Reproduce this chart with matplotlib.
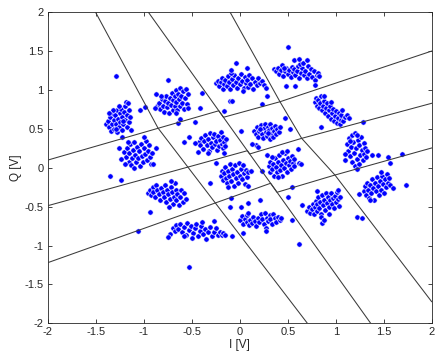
import numpy as np
import matplotlib
matplotlib.use('Agg')
import matplotlib.pyplot as plt

# received symbols, one list per constellation cluster (I, Q) in volts
c01 = [(-1.40, 0.57), (-1.37, 0.60), (-1.36, 0.52), (-1.35, 0.66), (-1.34, 0.47), (-1.33, 0.56),
       (-1.33, 0.71), (-1.31, 0.62), (-1.31, 0.50), (-1.30, 0.68), (-1.29, 0.56), (-1.28, 0.74),
       (-1.28, 0.46), (-1.27, 0.63), (-1.26, 0.53), (-1.25, 0.70), (-1.25, 0.59), (-1.24, 0.76),
       (-1.23, 0.49), (-1.23, 0.65), (-1.22, 0.56), (-1.21, 0.72), (-1.20, 0.62), (-1.20, 0.80),
       (-1.19, 0.85), (-1.18, 0.52), (-1.18, 0.68), (-1.17, 0.83), (-1.16, 0.59), (-1.15, 0.74),
       (-1.14, 0.66), (-1.32, 0.75), (-1.36, 0.70), (-1.29, 0.50), (-1.22, 0.60), (-1.26, 0.79)]
c02 = [(-0.86, 0.79), (-0.84, 0.84), (-0.83, 0.76), (-0.81, 0.88), (-0.80, 0.80), (-0.79, 0.72),
       (-0.78, 0.86), (-0.77, 0.93), (-0.76, 0.78), (-0.75, 0.84), (-0.74, 0.70), (-0.73, 0.90),
       (-0.72, 0.81), (-0.71, 0.96), (-0.70, 0.75), (-0.70, 0.87), (-0.68, 0.92), (-0.68, 0.80),
       (-0.67, 1.00), (-0.66, 0.85), (-0.65, 0.74), (-0.64, 0.95), (-0.63, 0.88), (-0.62, 1.03),
       (-0.62, 0.79), (-0.61, 0.92), (-0.60, 0.84), (-0.59, 0.99), (-0.58, 0.76), (-0.57, 0.90),
       (-0.56, 1.02), (-0.55, 0.82), (-0.54, 0.95), (-0.82, 0.92), (-0.66, 0.70)]
c03 = [(-0.25, 1.09), (-0.23, 1.12), (-0.22, 1.05), (-0.20, 1.10), (-0.19, 1.16), (-0.17, 1.02),
       (-0.16, 1.08), (-0.15, 1.13), (-0.13, 1.05), (-0.12, 1.18), (-0.11, 1.10), (-0.10, 1.01),
       (-0.08, 1.14), (-0.07, 1.06), (-0.06, 1.20), (-0.04, 1.10), (-0.03, 1.03), (-0.02, 1.16),
       (0.00, 1.08), (0.01, 1.21), (0.02, 1.12), (0.04, 1.03), (0.05, 1.17), (0.06, 1.09),
       (0.08, 1.13), (0.09, 1.04), (0.10, 1.20), (0.11, 1.08), (0.13, 1.15), (0.14, 1.02),
       (0.16, 1.11), (0.18, 1.06), (0.19, 1.15), (0.21, 1.09), (0.23, 1.12), (0.25, 1.06),
       (-0.09, 1.22), (0.03, 0.99)]
c04 = [(0.36, 1.27), (0.38, 1.24), (0.40, 1.29), (0.41, 1.21), (0.43, 1.26), (0.44, 1.32),
       (0.45, 1.18), (0.47, 1.24), (0.48, 1.29), (0.50, 1.21), (0.51, 1.26), (0.53, 1.17),
       (0.54, 1.30), (0.55, 1.23), (0.57, 1.27), (0.58, 1.19), (0.60, 1.25), (0.61, 1.31),
       (0.62, 1.16), (0.64, 1.22), (0.65, 1.28), (0.67, 1.19), (0.68, 1.25), (0.70, 1.15),
       (0.71, 1.31), (0.72, 1.21), (0.74, 1.27), (0.75, 1.17), (0.77, 1.24), (0.78, 1.13),
       (0.80, 1.19), (0.82, 1.22), (0.46, 1.28), (0.63, 1.33)]
c05 = [(-1.21, 0.20), (-1.19, 0.14), (-1.18, 0.25), (-1.16, 0.08), (-1.15, 0.19), (-1.14, 0.30),
       (-1.13, 0.04), (-1.12, 0.13), (-1.11, 0.23), (-1.10, 0.33), (-1.09, 0.17), (-1.08, 0.07),
       (-1.07, 0.27), (-1.06, 0.12), (-1.05, 0.21), (-1.04, 0.02), (-1.03, 0.31), (-1.02, 0.15),
       (-1.01, 0.08), (-1.00, 0.25), (-0.99, 0.18), (-0.98, 0.35), (-0.97, 0.10), (-0.96, 0.22),
       (-0.95, 0.29), (-0.94, 0.14), (-0.93, 0.05), (-0.92, 0.19), (-1.10, 0.00), (-1.00, 0.40),
       (-1.17, 0.33)]
c06 = [(-0.43, 0.33), (-0.41, 0.29), (-0.40, 0.38), (-0.38, 0.24), (-0.37, 0.34), (-0.36, 0.42),
       (-0.34, 0.29), (-0.33, 0.37), (-0.32, 0.21), (-0.31, 0.45), (-0.30, 0.32), (-0.29, 0.27),
       (-0.28, 0.39), (-0.27, 0.44), (-0.26, 0.30), (-0.25, 0.35), (-0.24, 0.23), (-0.23, 0.41),
       (-0.22, 0.28), (-0.21, 0.36), (-0.20, 0.46), (-0.19, 0.31), (-0.18, 0.25), (-0.17, 0.39),
       (-0.16, 0.33), (-0.15, 0.28), (-0.14, 0.37)]
c07 = [(0.15, 0.47), (0.17, 0.43), (0.18, 0.52), (0.19, 0.40), (0.20, 0.48), (0.22, 0.55),
       (0.23, 0.44), (0.24, 0.38), (0.25, 0.51), (0.26, 0.57), (0.27, 0.46), (0.28, 0.41),
       (0.29, 0.53), (0.30, 0.49), (0.31, 0.37), (0.32, 0.56), (0.33, 0.44), (0.34, 0.51),
       (0.35, 0.40), (0.36, 0.47), (0.37, 0.54), (0.38, 0.43), (0.39, 0.50), (0.41, 0.46),
       (0.42, 0.52), (0.21, 0.50), (0.29, 0.45)]
c08 = [(0.78, 0.85), (0.79, 0.90), (0.80, 0.80), (0.82, 0.87), (0.83, 0.77), (0.84, 0.83),
       (0.85, 0.92), (0.86, 0.74), (0.87, 0.80), (0.88, 0.86), (0.89, 0.70), (0.90, 0.77),
       (0.91, 0.83), (0.92, 0.67), (0.93, 0.74), (0.94, 0.79), (0.95, 0.63), (0.96, 0.71),
       (0.97, 0.76), (0.98, 0.60), (0.99, 0.67), (1.00, 0.73), (1.01, 0.58), (1.02, 0.64),
       (1.03, 0.70), (1.04, 0.57), (1.05, 0.62), (1.06, 0.68), (1.07, 0.74), (1.08, 0.60),
       (1.10, 0.66), (0.88, 0.92), (0.95, 0.85)]
c09 = [(-0.96, -0.32), (-0.94, -0.28), (-0.93, -0.35), (-0.91, -0.25), (-0.90, -0.31), (-0.88, -0.38),
       (-0.87, -0.22), (-0.86, -0.29), (-0.84, -0.34), (-0.83, -0.41), (-0.82, -0.26), (-0.80, -0.31),
       (-0.79, -0.37), (-0.78, -0.22), (-0.77, -0.44), (-0.76, -0.28), (-0.75, -0.34), (-0.73, -0.40),
       (-0.72, -0.25), (-0.71, -0.31), (-0.70, -0.47), (-0.69, -0.37), (-0.68, -0.20), (-0.67, -0.28),
       (-0.66, -0.42), (-0.65, -0.34), (-0.63, -0.48), (-0.62, -0.38), (-0.61, -0.29), (-0.59, -0.44),
       (-0.58, -0.33), (-0.56, -0.40), (-0.74, -0.50), (-0.72, -0.17)]
c10 = [(-0.20, -0.10), (-0.19, -0.04), (-0.18, -0.16), (-0.16, -0.07), (-0.15, 0.01), (-0.14, -0.13),
       (-0.13, -0.20), (-0.12, -0.04), (-0.11, -0.10), (-0.10, 0.05), (-0.09, -0.17), (-0.08, -0.02),
       (-0.07, -0.08), (-0.06, -0.23), (-0.05, 0.03), (-0.04, -0.13), (-0.03, -0.05), (-0.02, -0.19),
       (-0.01, 0.06), (0.00, -0.10), (0.01, -0.01), (0.02, -0.15), (0.04, -0.07), (0.05, -0.21),
       (0.06, -0.03), (0.08, -0.12), (0.09, -0.06), (-0.12, -0.25), (0.03, 0.04)]
c11 = [(0.30, 0.02), (0.31, -0.05), (0.32, 0.08), (0.34, -0.02), (0.35, 0.05), (0.36, -0.10),
       (0.37, 0.12), (0.38, 0.01), (0.39, -0.06), (0.40, 0.07), (0.41, 0.16), (0.42, -0.03),
       (0.43, 0.04), (0.44, -0.11), (0.45, 0.10), (0.46, 0.00), (0.47, 0.19), (0.48, 0.06),
       (0.49, -0.05), (0.50, 0.13), (0.51, 0.03), (0.52, 0.09), (0.53, -0.02), (0.54, 0.15),
       (0.55, 0.06), (0.56, 0.11), (0.57, 0.02), (0.44, 0.20), (0.40, -0.12)]
c12 = [(1.12, 0.30), (1.13, 0.22), (1.14, 0.38), (1.15, 0.15), (1.16, 0.27), (1.17, 0.42),
       (1.17, 0.07), (1.18, 0.33), (1.19, 0.19), (1.20, 0.45), (1.20, 0.02), (1.21, 0.25),
       (1.22, 0.11), (1.23, 0.36), (1.24, 0.29), (1.24, 0.05), (1.25, 0.17), (1.26, 0.40),
       (1.27, 0.23), (1.28, 0.10), (1.29, 0.32), (1.30, 0.18), (1.31, 0.26), (1.32, 0.14),
       (1.33, 0.22), (1.15, 0.35), (1.22, 0.42)]
c13 = [(-0.70, -0.77), (-0.68, -0.81), (-0.66, -0.74), (-0.64, -0.79), (-0.62, -0.72), (-0.60, -0.82),
       (-0.58, -0.76), (-0.56, -0.86), (-0.55, -0.71), (-0.53, -0.80), (-0.51, -0.75), (-0.49, -0.84),
       (-0.47, -0.78), (-0.46, -0.72), (-0.44, -0.88), (-0.42, -0.81), (-0.40, -0.75), (-0.38, -0.85),
       (-0.36, -0.79), (-0.35, -0.91), (-0.33, -0.82), (-0.31, -0.76), (-0.29, -0.88), (-0.27, -0.83),
       (-0.25, -0.78), (-0.23, -0.87), (-0.21, -0.82), (-0.19, -0.86), (-0.17, -0.84), (-0.15, -0.86),
       (-0.50, -0.90), (-0.39, -0.70), (-0.58, -0.88)]
c14 = [(0.00, -0.67), (0.02, -0.62), (0.03, -0.72), (0.05, -0.66), (0.07, -0.70), (0.08, -0.61),
       (0.10, -0.74), (0.11, -0.67), (0.13, -0.71), (0.14, -0.63), (0.16, -0.68), (0.17, -0.75),
       (0.19, -0.64), (0.20, -0.70), (0.22, -0.60), (0.23, -0.66), (0.25, -0.72), (0.26, -0.58),
       (0.28, -0.64), (0.29, -0.69), (0.31, -0.61), (0.32, -0.66), (0.34, -0.72), (0.35, -0.59),
       (0.37, -0.65), (0.38, -0.70), (0.40, -0.63), (0.42, -0.67), (0.43, -0.64), (0.27, -0.78),
       (0.09, -0.58)]
c15 = [(0.70, -0.55), (0.72, -0.51), (0.73, -0.58), (0.75, -0.53), (0.76, -0.47), (0.77, -0.60),
       (0.78, -0.50), (0.79, -0.43), (0.80, -0.56), (0.81, -0.47), (0.82, -0.38), (0.83, -0.52),
       (0.84, -0.44), (0.85, -0.59), (0.86, -0.35), (0.87, -0.48), (0.88, -0.41), (0.89, -0.54),
       (0.90, -0.32), (0.91, -0.45), (0.92, -0.38), (0.93, -0.50), (0.94, -0.42), (0.95, -0.33),
       (0.96, -0.47), (0.97, -0.39), (0.98, -0.52), (0.99, -0.36), (1.00, -0.44), (1.01, -0.31),
       (1.02, -0.40), (1.03, -0.49), (1.04, -0.38), (0.85, -0.63), (0.93, -0.60)]
c16 = [(1.30, -0.30), (1.31, -0.24), (1.32, -0.35), (1.33, -0.19), (1.34, -0.28), (1.35, -0.39),
       (1.36, -0.22), (1.37, -0.32), (1.38, -0.15), (1.39, -0.26), (1.40, -0.41), (1.41, -0.20),
       (1.42, -0.30), (1.43, -0.12), (1.44, -0.24), (1.45, -0.35), (1.46, -0.17), (1.47, -0.28),
       (1.48, -0.10), (1.49, -0.21), (1.50, -0.32), (1.51, -0.14), (1.52, -0.25), (1.53, -0.08),
       (1.54, -0.19), (1.56, -0.13), (1.57, -0.22), (1.36, -0.41), (1.47, -0.06)]

# scattered points between the clusters
strays = [(-1.295, 1.185), (-1.04, 0.744), (-0.99, 0.778), (-1.13, 0.49), (-1.23, 0.40),
          (-0.745, 1.13), (-0.87, 0.945), (-0.88, 0.774), (-0.64, 0.572), (-0.62, 0.624),
          (-0.54, 0.77), (-0.39, 0.958), (-0.415, 0.774), (-0.467, 0.594),
          (-0.09, 1.26), (-0.04, 1.35), (0.08, 1.29), (-0.10, 0.86), (-0.08, 0.86),
          (0.27, 1.03), (0.28, 0.92), (0.23, 0.82), (-0.16, 0.73),
          (0.50, 1.55), (0.56, 1.39), (0.62, 1.40), (0.66, 1.35), (0.70, 1.39), (0.48, 1.05),
          (0.58, 1.05), (0.78, 1.07), (0.83, 1.18),
          (-1.35, -0.11), (-1.24, -0.16), (-1.26, 0.25), (-1.24, 0.11), (-1.20, 0.05),
          (-0.87, 0.25), (-0.90, 0.05),
          (-0.53, 0.40), (-0.586, 0.336), (-0.467, 0.324), (-0.44, 0.20), (-0.33, 0.19), (-0.16, 0.19),
          (0.012, 0.474), (0.165, 0.294), (0.193, 0.272), (0.471, 0.645), (0.523, 0.504), (0.13, 0.30),
          (0.846, 0.52), (1.12, 0.68), (1.14, 0.64), (1.28, 0.594),
          (-0.937, -0.564), (-1.065, -0.81), (-0.31, -0.20), (-0.25, 0.066), (-0.095, -0.39),
          (0.085, -0.233), (0.12, -0.04),
          (0.28, 0.165), (0.332, 0.135), (0.495, 0.217), (0.61, 0.24), (0.617, 0.058), (0.638, 0.05),
          (0.54, -0.242), (0.506, -0.37), (0.23, -0.04),
          (1.10, 0.18), (1.10, 0.10), (1.22, -0.02), (1.38, 0.17),
          (-0.53, -1.28), (-0.73, -0.85), (-0.745, -0.89), (-0.085, -0.877), (-0.27, -0.68),
          (-0.10, -0.50), (0.009, -0.50), (0.089, -0.457), (0.21, -0.414), (0.54, -0.67),
          (0.617, -0.98), (0.03, -0.84), (0.27, -0.81),
          (0.853, -0.714), (0.88, -0.67), (0.645, -0.48), (1.027, -0.285), (0.80, -0.30),
          (1.24, -0.34), (1.54, 0.135), (1.57, 0.067), (1.687, 0.178), (1.733, -0.22),
          (1.60, -0.26), (1.22, -0.63), (1.27, -0.65), (1.44, 0.16)]

# decision boundaries (polyline vertices)
bound_a_i = [-2.0, -0.219, -0.170, 0.419, 2.0]
bound_a_q = [0.10, 0.734, 0.650, 0.850, 1.502]
bound_b_i = [-2.0, 0.079, 0.103, 0.645, 2.0]
bound_b_q = [-0.487, 0.220, 0.178, 0.379, 0.830]
bound_c_i = [-2.0, 0.321, 0.388, 0.992, 2.0]
bound_c_q = [-1.22, -0.199, -0.315, -0.093, 0.255]
bound_d_i = [-1.503, -0.853, 0.704]
bound_d_q = [2.0, 0.512, -2.0]
bound_e_i = [-0.952, 1.364]
bound_e_q = [2.0, -2.0]
bound_f_i = [-0.10, 0.419, 0.645, 0.992, 2.0]
bound_f_q = [2.0, 0.85, 0.379, -0.093, -1.722]

ticks = [-2, -1.5, -1, -0.5, 0, 0.5, 1, 1.5, 2]
tick_labels = ['-2', '-1.5', '-1', '-0.5', '0', '0.5', '1', '1.5', '2']

plt.rcParams['font.family'] = ['Liberation Sans', 'DejaVu Sans']

fig = plt.figure(figsize=(4.4, 3.64), dpi=100)
ax = fig.add_axes([0.109, 0.112, 0.872, 0.854])

clusters = [c01, c02, c03, c04, c05, c06, c07, c08, c09, c10, c11, c12, c13, c14, c15, c16, strays]
pts = np.array([p for c in clusters for p in c])
ax.scatter(pts[:, 0], pts[:, 1], s=15, c='#0000ff', edgecolors='white', linewidths=0.45, zorder=2)

for bi, bq in [(bound_a_i, bound_a_q), (bound_b_i, bound_b_q), (bound_c_i, bound_c_q),
               (bound_d_i, bound_d_q), (bound_e_i, bound_e_q), (bound_f_i, bound_f_q)]:
    ax.plot(bi, bq, color='#3a3a3a', lw=0.75, zorder=3)

ax.set_xlim(-2, 2)
ax.set_ylim(-2, 2)
ax.set_xticks(ticks)
ax.set_xticklabels(tick_labels)
ax.set_yticks(ticks)
ax.set_yticklabels(tick_labels)
ax.tick_params(direction='in', length=3, width=0.6, top=True, right=True,
               labelsize=8, colors='#262626', pad=3)
for sp in ax.spines.values():
    sp.set_color('#262626')
    sp.set_linewidth(0.6)
ax.set_xlabel('I [V]', fontsize=8.5, color='#262626', labelpad=1)
ax.set_ylabel('Q [V]', fontsize=8.5, color='#262626', labelpad=2)

fig.savefig('out.png', dpi=100)
